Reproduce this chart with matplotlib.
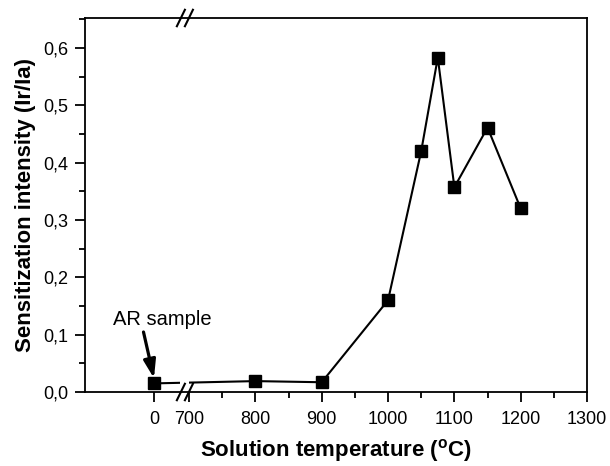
import matplotlib
matplotlib.use('Agg')
import matplotlib.pyplot as plt
from matplotlib.ticker import FuncFormatter, MultipleLocator

plt.rcParams['font.family'] = ['Liberation Sans', 'DejaVu Sans']
plt.rcParams['mathtext.fontset'] = 'custom'
plt.rcParams['mathtext.rm'] = 'Liberation Sans'
plt.rcParams['mathtext.bf'] = 'Liberation Sans:bold'

# data
temps = [0, 800, 900, 1000, 1050, 1075, 1100, 1150, 1200]
intensity = [0.015, 0.019, 0.017, 0.160, 0.420, 0.583, 0.357, 0.461, 0.320]
tick_vals = [0, 700, 800, 900, 1000, 1100, 1200, 1300]
tick_labels = ['0', '700', '800', '900', '1000', '1100', '1200', '1300']

# the AR sample (0) sits left of the axis break
ar_pos = 647
xpos = [ar_pos if t == 0 else t for t in temps]
tick_pos = [ar_pos if t == 0 else t for t in tick_vals]

fig = plt.figure(figsize=(6.10, 4.66), dpi=100)
ax = fig.add_axes([85/610, 74/466, 502/610, 374/466])

ax.plot(xpos, intensity, color='black', lw=1.5, marker='s', markersize=8,
        markerfacecolor='black', markeredgecolor='black', zorder=3)

ax.set_xlim(543, 1300)
ax.set_ylim(0, 0.652)

ax.set_xticks(tick_pos)
ax.set_xticklabels(tick_labels)
ax.set_xticks([750, 850, 950, 1050, 1150, 1250], minor=True)
ax.yaxis.set_major_locator(MultipleLocator(0.1))
ax.yaxis.set_minor_locator(MultipleLocator(0.05))
ax.yaxis.set_major_formatter(FuncFormatter(lambda v, p: ('%.1f' % v).replace('.', ',')))

ax.tick_params(which='major', direction='out', length=7, width=1.3, labelsize=13, pad=5)
ax.tick_params(axis='x', which='major', pad=7)
ax.tick_params(which='minor', direction='out', length=4, width=1.3)
ax.tick_params(top=False, right=False, which='both')
for s in ax.spines.values():
    s.set_linewidth(1.3)

# gap in the data line at the break
ax.axvspan(687, 700, ymin=0.012, ymax=0.08, color='white', zorder=3.5, lw=0)

# break marks on top and bottom axis
dx, dy = 0.008, 0.022
for cx in [0.191, 0.207]:
    for cy in [0.0, 1.0]:
        ax.plot([cx - dx, cx + dx], [cy - dy, cy + dy], color='black', lw=1.5,
                transform=ax.transAxes, clip_on=False, zorder=5)

ax.annotate('AR sample', xy=(ar_pos, 0.024), xytext=(660, 0.126),
            fontsize=14.5, ha='center', va='center',
            arrowprops=dict(arrowstyle='-|>,head_length=0.75,head_width=0.25',
                            lw=2.3, color='black', relpos=(0.3, 0.0),
                            shrinkA=0, shrinkB=0))

ax.set_xlabel(r'Solution temperature ($\mathbf{^o}$C)', fontsize=16,
              fontweight='bold', labelpad=6)
ax.set_ylabel('Sensitization intensity (Ir/Ia)', fontsize=16,
              fontweight='bold', labelpad=5)

fig.savefig('out.png', dpi=100)
